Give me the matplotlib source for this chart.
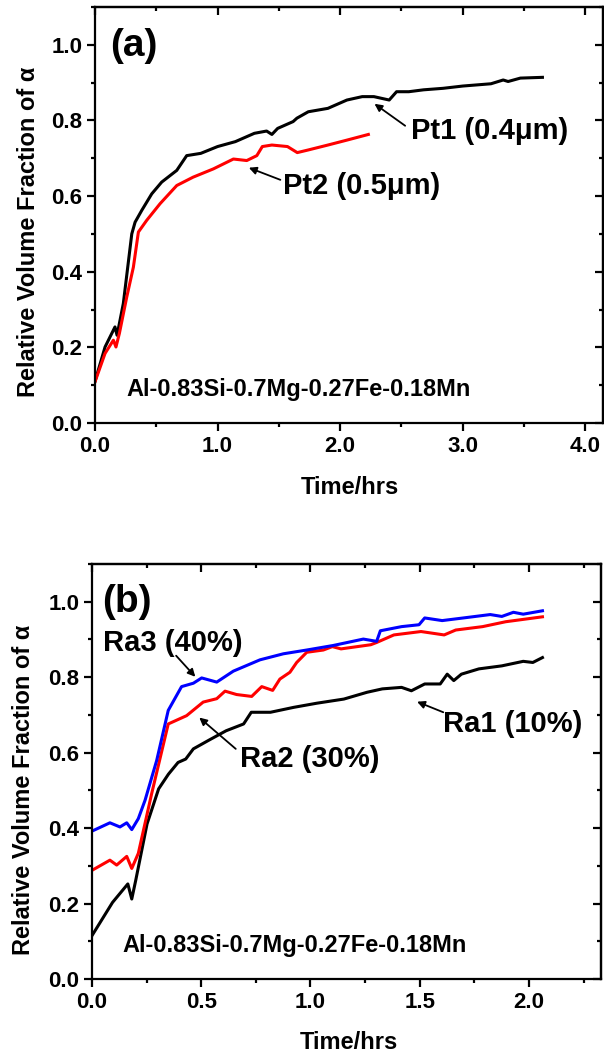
import matplotlib
matplotlib.use("Agg")
import matplotlib.pyplot as plt
from matplotlib.ticker import MultipleLocator, FormatStrFormatter, NullFormatter

plt.rcParams['font.family'] = ['Liberation Sans', 'DejaVu Sans']
plt.rcParams['font.weight'] = 'bold'

# ---------------- Panel (a) data ----------------
pt1_t = [0, 0.082, 0.163, 0.18, 0.231, 0.30, 0.327, 0.381, 0.463, 0.544, 0.667, 0.721,
         0.748, 0.863, 1.0, 1.145, 1.30, 1.40, 1.443, 1.49, 1.616, 1.647, 1.74, 1.90, 2.055,
         2.18, 2.275, 2.40, 2.46, 2.56, 2.68, 2.84, 3.0, 3.23, 3.33, 3.37, 3.47, 3.65]
pt1_y = [0.11, 0.201, 0.254, 0.232, 0.316, 0.50, 0.531, 0.562, 0.606, 0.637, 0.668, 0.694,
         0.707, 0.713, 0.731, 0.744, 0.766, 0.772, 0.763, 0.779, 0.797, 0.806, 0.823, 0.832, 0.854,
         0.863, 0.863, 0.854, 0.876, 0.876, 0.881, 0.885, 0.891, 0.897, 0.907, 0.903, 0.912, 0.914]

pt2_t = [0, 0.082, 0.15, 0.171, 0.199, 0.259, 0.313, 0.354, 0.422, 0.531, 0.667, 0.80,
         0.966, 1.129, 1.238, 1.32, 1.365, 1.443, 1.57, 1.65, 1.74, 1.90, 2.055, 2.23]
pt2_y = [0.109, 0.184, 0.219, 0.201, 0.237, 0.333, 0.412, 0.505, 0.536, 0.580, 0.628, 0.650,
         0.672, 0.698, 0.694, 0.707, 0.731, 0.735, 0.731, 0.715, 0.722, 0.735, 0.748, 0.763]

# ---------------- Panel (b) data ----------------
ra1_t = [0, 0.094, 0.164, 0.182, 0.20, 0.252, 0.305, 0.35, 0.394, 0.429, 0.464, 0.535, 0.614,
         0.694, 0.729, 0.817, 0.923, 1.029, 1.153, 1.259, 1.329, 1.417, 1.462, 1.523, 1.594,
         1.626, 1.656, 1.691, 1.771, 1.876, 1.974, 2.018, 2.062]
ra1_y = [0.115, 0.203, 0.252, 0.212, 0.261, 0.411, 0.504, 0.543, 0.574, 0.583, 0.610, 0.633, 0.658,
         0.676, 0.707, 0.707, 0.720, 0.731, 0.742, 0.760, 0.769, 0.773, 0.764, 0.782, 0.782,
         0.808, 0.791, 0.808, 0.822, 0.830, 0.842, 0.839, 0.852]

ra2_t = [0, 0.082, 0.113, 0.159, 0.182, 0.212, 0.273, 0.349, 0.433, 0.509, 0.571, 0.609, 0.662,
         0.731, 0.777, 0.827, 0.860, 0.906, 0.937, 0.983, 1.059, 1.10, 1.14, 1.276, 1.303,
         1.382, 1.506, 1.612, 1.665, 1.788, 1.894, 2.062]
ra2_y = [0.288, 0.315, 0.302, 0.325, 0.293, 0.333, 0.491, 0.676, 0.698, 0.734, 0.743, 0.763, 0.754,
         0.749, 0.775, 0.765, 0.795, 0.813, 0.839, 0.866, 0.872, 0.881, 0.875, 0.886, 0.892,
         0.912, 0.921, 0.912, 0.925, 0.934, 0.947, 0.960]

ra3_t = [0, 0.082, 0.128, 0.159, 0.182, 0.212, 0.243, 0.296, 0.349, 0.410, 0.464, 0.502, 0.571,
         0.647, 0.769, 0.876, 0.983, 1.104, 1.242, 1.303, 1.32, 1.417, 1.497, 1.523, 1.603,
         1.70, 1.823, 1.876, 1.929, 1.974, 2.062]
ra3_y = [0.392, 0.414, 0.403, 0.414, 0.396, 0.425, 0.474, 0.579, 0.712, 0.775, 0.784, 0.798, 0.787,
         0.816, 0.846, 0.862, 0.872, 0.884, 0.901, 0.895, 0.923, 0.934, 0.939, 0.957, 0.950,
         0.957, 0.966, 0.961, 0.972, 0.967, 0.976]

alloy = "Al-0.83Si-0.7Mg-0.27Fe-0.18Mn"
ylab = "Relative Volume Fraction of α"
xlab = "Time/hrs"

fig = plt.figure(figsize=(6.04, 10.57), dpi=100)
ax1 = fig.add_axes([95/604, 1-423/1057, 507.5/604, 416/1057])
ax2 = fig.add_axes([92/604, 1-979/1057, 509/604, 415/1057])

LW_SP = 1.6


def style(ax, xmax, xmaj, xmin, ylc, xlc):
    ax.set_xlim(0, xmax)
    ax.set_ylim(0, 1.1)
    ax.xaxis.set_major_locator(MultipleLocator(xmaj))
    ax.xaxis.set_minor_locator(MultipleLocator(xmin))
    ax.yaxis.set_major_locator(MultipleLocator(0.2))
    ax.yaxis.set_minor_locator(MultipleLocator(0.1))
    ax.xaxis.set_major_formatter(FormatStrFormatter('%.1f'))
    ax.yaxis.set_major_formatter(FormatStrFormatter('%.1f'))
    for s in ax.spines.values():
        s.set_linewidth(LW_SP)
    ax.tick_params(which='both', direction='out', width=LW_SP, top=False, right=False,
                   labelsize=16, pad=3)
    ax.tick_params(which='major', length=6)
    ax.tick_params(which='minor', length=3)
    for lab in ax.get_xticklabels() + ax.get_yticklabels():
        lab.set_fontweight('bold')
    # mirrored ticks on top and right, pointing in the same absolute direction
    top = ax.secondary_xaxis('top')
    top.xaxis.set_major_locator(MultipleLocator(xmaj))
    top.xaxis.set_minor_locator(MultipleLocator(xmin))
    top.xaxis.set_major_formatter(NullFormatter())
    top.tick_params(which='both', direction='in', width=LW_SP)
    top.tick_params(which='major', length=6)
    top.tick_params(which='minor', length=3)
    top.spines['top'].set_linewidth(LW_SP)
    right = ax.secondary_yaxis('right')
    right.yaxis.set_major_locator(MultipleLocator(0.2))
    right.yaxis.set_minor_locator(MultipleLocator(0.1))
    right.yaxis.set_major_formatter(NullFormatter())
    right.tick_params(which='both', direction='in', width=LW_SP)
    right.tick_params(which='major', length=6)
    right.tick_params(which='minor', length=3)
    right.spines['right'].set_linewidth(LW_SP)
    ax.set_ylabel(ylab, fontsize=17, fontweight='bold', va='center')
    ax.yaxis.set_label_coords(*ylc)
    ax.set_xlabel(xlab, fontsize=17, fontweight='bold', va='center')
    ax.xaxis.set_label_coords(*xlc)


LW = 2.2
arrow = dict(arrowstyle='-|>', color='black', lw=1.3, mutation_scale=11,
             shrinkA=0, shrinkB=0)

# ---------- (a) ----------
ax1.plot(pt1_t, pt1_y, color='black', lw=LW)
ax1.plot(pt2_t, pt2_y, color='#ff0000', lw=LW)
style(ax1, 4.14, 1.0, 0.5, (-0.132, 0.459), (0.502, -0.154))
ax1.text(0.122, 0.996, '(a)', fontsize=28, fontweight='bold', ha='left', va='center')
ax1.text(2.58, 0.773, 'Pt1 (0.4μm)', fontsize=21, fontweight='bold', ha='left', va='center')
ax1.text(1.537, 0.628, 'Pt2 (0.5μm)', fontsize=21, fontweight='bold', ha='left', va='center')
ax1.annotate('', xy=(2.28, 0.844), xytext=(2.53, 0.786), arrowprops=arrow)
ax1.annotate('', xy=(1.255, 0.675), xytext=(1.512, 0.643), arrowprops=arrow)
ax1.text(0.255, 0.089, alloy, fontsize=17, fontweight='bold', ha='left', va='center')

# ---------- (b) ----------
ax2.plot(ra1_t, ra1_y, color='black', lw=LW)
ax2.plot(ra2_t, ra2_y, color='#ff0000', lw=LW)
ax2.plot(ra3_t, ra3_y, color='#0000ff', lw=LW)
style(ax2, 2.33, 0.5, 0.25, (-0.134, 0.457), (0.505, -0.152))
ax2.text(0.046, 1.0, '(b)', fontsize=28, fontweight='bold', ha='left', va='center')
ax2.text(0.049, 0.89, 'Ra3 (40%)', fontsize=21, fontweight='bold', ha='left', va='center')
ax2.text(0.676, 0.583, 'Ra2 (30%)', fontsize=21, fontweight='bold', ha='left', va='center')
ax2.text(1.608, 0.676, 'Ra1 (10%)', fontsize=21, fontweight='bold', ha='left', va='center')
ax2.annotate('', xy=(0.473, 0.801), xytext=(0.385, 0.857), arrowprops=arrow)
ax2.annotate('', xy=(0.491, 0.693), xytext=(0.658, 0.61), arrowprops=arrow)
ax2.annotate('', xy=(1.488, 0.735), xytext=(1.608, 0.707), arrowprops=arrow)
ax2.text(0.138, 0.088, alloy, fontsize=17, fontweight='bold', ha='left', va='center')

fig.savefig('out.png', dpi=100)
